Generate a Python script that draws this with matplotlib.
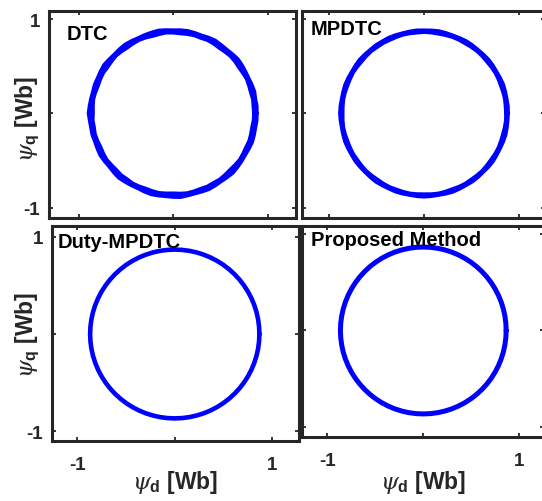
import numpy as np
import matplotlib
matplotlib.use('Agg')
import matplotlib.pyplot as plt

# stator flux trajectories (psi_d, psi_q in Wb) as radius per angle
methods = ['DTC', 'MPDTC', 'Duty-MPDTC', 'Proposed Method']
angle_deg = [0, 5, 10, 15, 20, 25, 30, 35, 40, 45, 50, 55,
             60, 65, 70, 75, 80, 85, 90, 95, 100, 105, 110, 115,
             120, 125, 130, 135, 140, 145, 150, 155, 160, 165, 170, 175,
             180, 185, 190, 195, 200, 205, 210, 215, 220, 225, 230, 235,
             240, 245, 250, 255, 260, 265, 270, 275, 280, 285, 290, 295,
             300, 305, 310, 315, 320, 325, 330, 335, 340, 345, 350, 355]
# DTC: two laps, visibly rippled band
radius_dtc_a = [0.878, 0.881, 0.876, 0.883, 0.879, 0.874, 0.877, 0.882, 0.887, 0.880, 0.875, 0.878,
                0.884, 0.879, 0.872, 0.876, 0.880, 0.878, 0.874, 0.879, 0.885, 0.880, 0.877, 0.873,
                0.878, 0.883, 0.879, 0.875, 0.880, 0.887, 0.881, 0.876, 0.878, 0.873, 0.877, 0.882,
                0.889, 0.880, 0.876, 0.879, 0.874, 0.878, 0.884, 0.879, 0.875, 0.881, 0.887, 0.880,
                0.876, 0.872, 0.878, 0.883, 0.879, 0.876, 0.880, 0.885, 0.878, 0.874, 0.877, 0.882,
                0.879, 0.875, 0.880, 0.886, 0.881, 0.877, 0.874, 0.878, 0.883, 0.879, 0.876, 0.880]
radius_dtc_b = [0.862, 0.859, 0.864, 0.858, 0.861, 0.866, 0.860, 0.856, 0.862, 0.865, 0.859, 0.855,
                0.861, 0.864, 0.858, 0.863, 0.860, 0.857, 0.862, 0.866, 0.859, 0.855, 0.861, 0.864,
                0.860, 0.856, 0.862, 0.867, 0.861, 0.857, 0.863, 0.859, 0.855, 0.861, 0.865, 0.860,
                0.856, 0.862, 0.858, 0.864, 0.860, 0.855, 0.861, 0.866, 0.860, 0.857, 0.863, 0.859,
                0.865, 0.861, 0.856, 0.860, 0.864, 0.859, 0.855, 0.861, 0.866, 0.862, 0.858, 0.863,
                0.859, 0.864, 0.860, 0.856, 0.861, 0.866, 0.862, 0.858, 0.863, 0.859, 0.855, 0.861]
# MPDTC: two laps, smaller ripple
radius_mpdtc_a = [0.876, 0.878, 0.875, 0.877, 0.880, 0.877, 0.874, 0.877, 0.879, 0.876, 0.874, 0.877,
                  0.879, 0.876, 0.874, 0.877, 0.880, 0.877, 0.875, 0.878, 0.876, 0.874, 0.877, 0.879,
                  0.876, 0.878, 0.875, 0.877, 0.880, 0.877, 0.874, 0.877, 0.879, 0.876, 0.875, 0.878,
                  0.880, 0.877, 0.874, 0.876, 0.879, 0.877, 0.875, 0.878, 0.876, 0.874, 0.877, 0.880,
                  0.877, 0.875, 0.878, 0.876, 0.874, 0.877, 0.879, 0.876, 0.874, 0.877, 0.880, 0.877,
                  0.875, 0.878, 0.876, 0.874, 0.877, 0.879, 0.876, 0.875, 0.878, 0.880, 0.877, 0.875]
radius_mpdtc_b = [0.866, 0.864, 0.867, 0.865, 0.863, 0.866, 0.868, 0.865, 0.863, 0.866, 0.868, 0.865,
                  0.863, 0.866, 0.867, 0.864, 0.862, 0.865, 0.867, 0.864, 0.866, 0.868, 0.865, 0.863,
                  0.866, 0.864, 0.867, 0.865, 0.862, 0.865, 0.868, 0.865, 0.863, 0.866, 0.867, 0.864,
                  0.862, 0.865, 0.868, 0.866, 0.863, 0.865, 0.867, 0.864, 0.866, 0.868, 0.865, 0.862,
                  0.865, 0.867, 0.864, 0.866, 0.868, 0.865, 0.863, 0.866, 0.868, 0.865, 0.862, 0.865,
                  0.867, 0.864, 0.866, 0.868, 0.865, 0.863, 0.866, 0.867, 0.864, 0.862, 0.865, 0.867]
radius_duty = [0.870] * 72
radius_prop = [0.865] * 72
laps = [[radius_dtc_a, radius_dtc_b], [radius_mpdtc_a, radius_mpdtc_b],
        [radius_duty], [radius_prop]]

tick_vals = [-1, 0, 1]
tick_text = ['-1', '', '1']

plt.rcParams['font.family'] = ['Liberation Sans', 'DejaVu Sans']
plt.rcParams['font.weight'] = 'bold'
plt.rcParams['mathtext.fontset'] = 'custom'
plt.rcParams['mathtext.it'] = 'DejaVu Serif:style=italic:weight=normal'
plt.rcParams['mathtext.rm'] = 'Liberation Sans:weight=bold'
plt.rcParams['mathtext.bf'] = 'Liberation Sans:weight=bold'

W, H = 542, 502
fig = plt.figure(figsize=(W / 100, H / 100), dpi=100)


def box(l, t, r, b):
    return [l / W, 1 - b / H, (r - l) / W, (b - t) / H]


# pixel boxes and limits of the four panels
boxes = [box(48.5, 12, 296, 219), box(302, 12, 545, 219),
         box(51.5, 227, 298.5, 442), box(302, 227, 544, 438)]
xlims = [(-1.32, 1.30), (-1.284, 1.27), (-1.267, 1.272), (-1.266, 1.26)]
ylims = [(-1.11, 1.085), (-1.11, 1.085), (-1.103, 1.113), (-1.104, 1.083)]
widths = [3.6, 3.4, 3.3, 3.6]
title_pos = [(67, 40), (311, 35), (58, 248), (311, 246)]

dark = '#262626'
th = np.deg2rad(angle_deg + [angle_deg[0]])
for i, name in enumerate(methods):
    ax = fig.add_axes(boxes[i])
    for rad in laps[i]:
        r = np.array(rad + [rad[0]])
        ax.plot(r * np.cos(th), r * np.sin(th), color='#0000FF', lw=widths[i],
                solid_joinstyle='round', solid_capstyle='round')
    ax.set_xlim(xlims[i])
    ax.set_ylim(ylims[i])
    ax.set_xticks(tick_vals, tick_text)
    ax.set_yticks(tick_vals, tick_text)
    ax.tick_params(direction='in', length=3, width=1.3, color=dark,
                   top=True, right=True, labelsize=13.5, labelcolor=dark)
    ax.tick_params(axis='x', pad=11)
    ax.tick_params(axis='y', pad=6)
    if i in (1, 3):
        ax.tick_params(labelleft=False)
    if i in (0, 1):
        ax.tick_params(labelbottom=False)
    for sp in ax.spines.values():
        sp.set_linewidth(2.2)
        sp.set_color(dark)
    fig.text(title_pos[i][0] / W, 1 - title_pos[i][1] / H, name,
             fontsize=14.5, fontweight='bold', color='black', va='baseline')

# axis labels
for yc in (119, 335):
    fig.text(33 / W, 1 - yc / H, r'$\psi_{\mathrm{q}}$ [Wb]', rotation=90,
             rotation_mode='anchor', ha='center', va='baseline',
             fontsize=16.5, fontweight='bold', color=dark)
for xc in (175, 423):
    fig.text(xc / W, 1 - 489 / H, r'$\psi_{\mathrm{d}}$ [Wb]',
             ha='center', va='baseline', fontsize=16.5, fontweight='bold',
             color=dark)

fig.savefig('out.png', dpi=100, facecolor='white')
